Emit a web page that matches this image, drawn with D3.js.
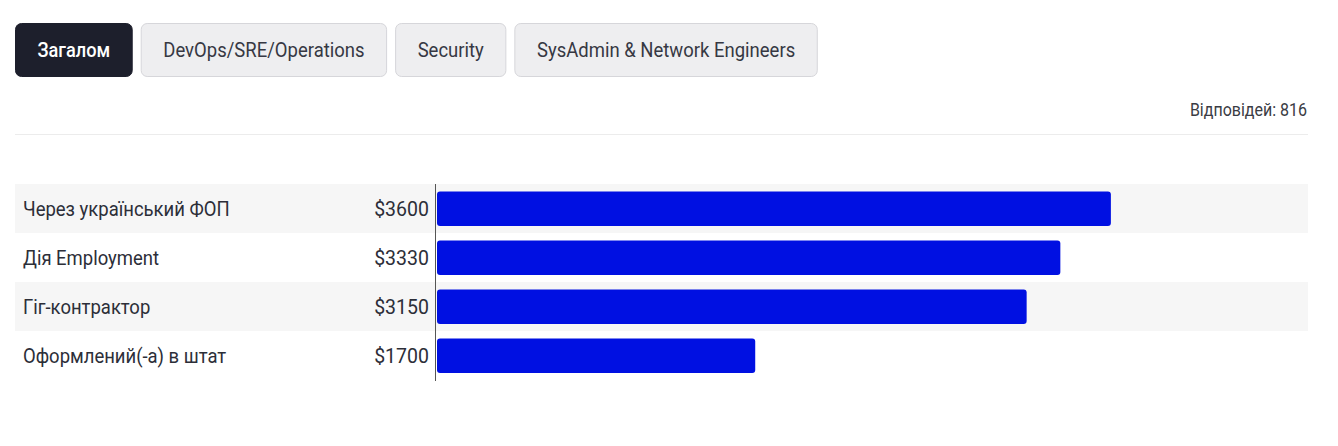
<!DOCTYPE html>
<html>
<head>
<meta charset="utf-8">
<script src="https://cdn.jsdelivr.net/npm/d3@7"></script>
<style>
  body { margin: 0; background: #fff; font-family: Roboto, "Noto Sans", sans-serif; }
</style>
</head>
<body>
<script>
// tabs above the chart
var tabs = ["Загалом", "DevOps/SRE/Operations", "Security", "SysAdmin & Network Engineers"];
var activeTab = 0;
var responses = 816;

// chart data
var categories = ["Через український ФОП", "Дія Employment", "Гіг-контрактор", "Оформлений(-а) в штат"];
var salaries = [3600, 3330, 3150, 1700];

var width = 1338, height = 446;
var left = 15, right = 1308;

var svg = d3.select("body").append("svg")
    .attr("width", width)
    .attr("height", height);

// the original uses a condensed face, so squeeze Roboto horizontally
function squeezed(sel, x, y, sx) {
  return sel.attr("transform", "translate(" + x + "," + y + ") scale(" + sx + ",1)");
}

// tab buttons
var tabX = left;
var tabG = svg.append("g");
tabs.forEach(function(t, i) {
  var g = tabG.append("g");
  var txt = g.append("text")
      .attr("font-size", 20)
      .attr("font-weight", i === activeTab ? 500 : 400)
      .attr("fill", i === activeTab ? "#fff" : "#363843")
      .attr("text-anchor", "middle")
      .text(t);
  var sx = i === activeTab ? 0.91 : 0.925;
  var w = txt.node().getComputedTextLength() * sx + 45;
  g.insert("rect", "text")
      .attr("x", tabX + 0.5)
      .attr("y", 23.5)
      .attr("width", w - 1)
      .attr("height", 53)
      .attr("rx", 6)
      .attr("fill", i === activeTab ? "#1d1f2c" : "#eeeef0")
      .attr("stroke", i === activeTab ? "#1d1f2c" : "#d6d6da");
  squeezed(txt, tabX + w / 2, 57, sx);
  tabX += w + 8;
});

squeezed(svg.append("text"), right - 1, 116, 0.89)
    .attr("text-anchor", "end")
    .attr("font-size", 18)
    .attr("fill", "#3a3c44")
    .text("Відповідей: " + responses);

svg.append("line")
    .attr("x1", left).attr("x2", right)
    .attr("y1", 134.5).attr("y2", 134.5)
    .attr("stroke", "#ececec");

// scales
var y = d3.scaleBand()
    .domain(categories)
    .range([184, 380]);

var x = d3.scaleLinear()
    .domain([0, 4653])
    .range([437, right]);

var rows = svg.selectAll(".row")
    .data(categories)
    .enter().append("g")
    .attr("class", "row");

rows.append("rect")
    .attr("x", left)
    .attr("y", function(d) { return y(d); })
    .attr("width", right - left)
    .attr("height", y.bandwidth())
    .attr("fill", function(d, i) { return i % 2 === 0 ? "#f6f6f6" : "#fff"; });

rows.append("text")
    .attr("transform", function(d) {
      return "translate(23," + (y(d) + y.bandwidth() / 2) + ") scale(0.88,1)";
    })
    .attr("dy", "0.36em")
    .attr("font-size", 21)
    .attr("fill", "#2c2e38")
    .text(function(d) { return d; });

rows.append("text")
    .attr("transform", function(d) {
      return "translate(429," + (y(d) + y.bandwidth() / 2) + ") scale(0.93,1)";
    })
    .attr("dy", "0.36em")
    .attr("text-anchor", "end")
    .attr("font-size", 21)
    .attr("fill", "#2c2e38")
    .text(function(d, i) { return "$" + salaries[i]; });

rows.append("rect")
    .attr("x", x(0))
    .attr("y", function(d) { return y(d) + 7.5; })
    .attr("width", function(d, i) { return x(salaries[i]) - x(0); })
    .attr("height", y.bandwidth() - 14.5)
    .attr("rx", 3)
    .attr("fill", "#0010e2");

svg.append("line")
    .attr("x1", 435.5).attr("x2", 435.5)
    .attr("y1", 184).attr("y2", 381)
    .attr("stroke", "#555");
</script>
</body>
</html>
